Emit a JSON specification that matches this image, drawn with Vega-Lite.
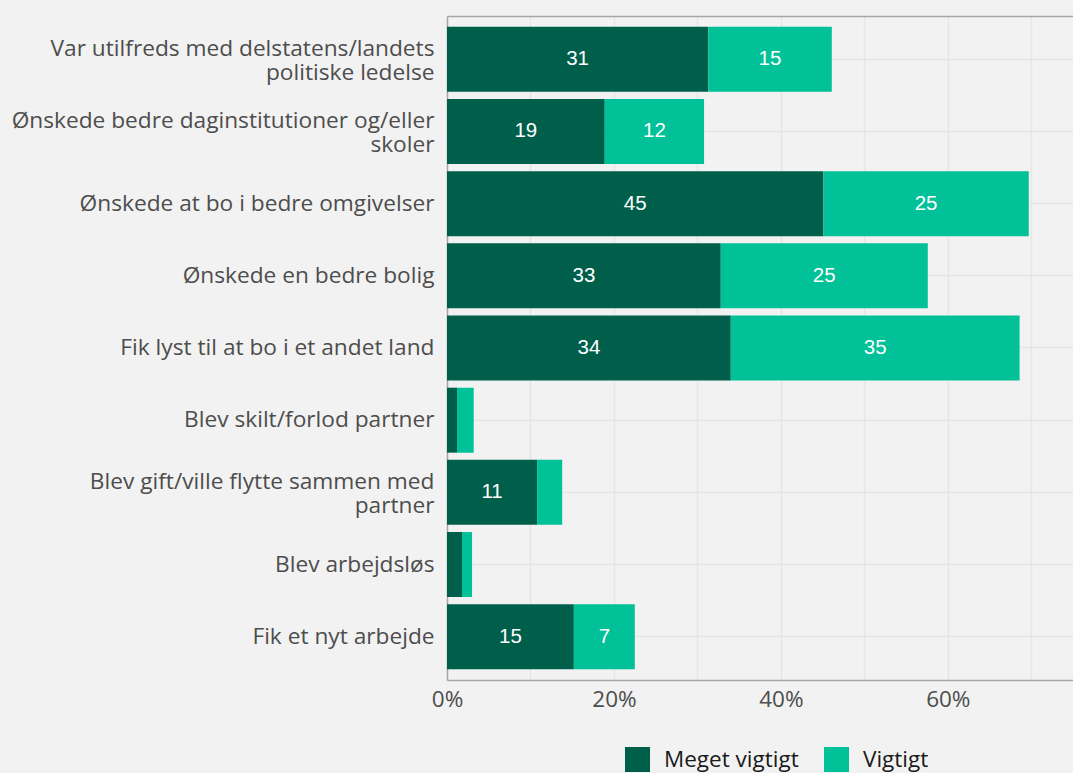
{
  "$schema": "https://vega.github.io/schema/vega-lite/v6.json",
  "width": 626,
  "height": 664,
  "autosize": "none",
  "padding": {"left": 447, "top": 16, "right": 0, "bottom": 93},
  "background": "#f2f2f2",
  "config": {
    "view": {"stroke": null},
    "font": "Open Sans"
  },
  "data": {
    "values": [
      {"category": "Var utilfreds med delstatens/landets|politiske ledelse", "type": "Meget vigtigt", "value": 31.3},
      {"category": "Var utilfreds med delstatens/landets|politiske ledelse", "type": "Vigtigt", "value": 14.8},
      {"category": "Ønskede bedre daginstitutioner og/eller|skoler", "type": "Meget vigtigt", "value": 18.9},
      {"category": "Ønskede bedre daginstitutioner og/eller|skoler", "type": "Vigtigt", "value": 11.9},
      {"category": "Ønskede at bo i bedre omgivelser", "type": "Meget vigtigt", "value": 45.1},
      {"category": "Ønskede at bo i bedre omgivelser", "type": "Vigtigt", "value": 24.6},
      {"category": "Ønskede en bedre bolig", "type": "Meget vigtigt", "value": 32.8},
      {"category": "Ønskede en bedre bolig", "type": "Vigtigt", "value": 24.8},
      {"category": "Fik lyst til at bo i et andet land", "type": "Meget vigtigt", "value": 34.0},
      {"category": "Fik lyst til at bo i et andet land", "type": "Vigtigt", "value": 34.6},
      {"category": "Blev skilt/forlod partner", "type": "Meget vigtigt", "value": 1.2},
      {"category": "Blev skilt/forlod partner", "type": "Vigtigt", "value": 2.0},
      {"category": "Blev gift/ville flytte sammen med|partner", "type": "Meget vigtigt", "value": 10.8},
      {"category": "Blev gift/ville flytte sammen med|partner", "type": "Vigtigt", "value": 3.0},
      {"category": "Blev arbejdsløs", "type": "Meget vigtigt", "value": 1.8},
      {"category": "Blev arbejdsløs", "type": "Vigtigt", "value": 1.2},
      {"category": "Fik et nyt arbejde", "type": "Meget vigtigt", "value": 15.2},
      {"category": "Fik et nyt arbejde", "type": "Vigtigt", "value": 7.3}
    ]
  },
  "encoding": {
    "y": {
      "field": "category",
      "type": "nominal",
      "sort": null,
      "scale": {"paddingInner": 0.1, "paddingOuter": 0.15},
      "axis": {
        "title": null,
        "labelExpr": "split(datum.label, '|')",
        "labelFontSize": 22.7,
        "labelColor": "#4d4d4d",
        "labelLineHeight": 24,
        "labelLimit": 0,
        "labelPadding": 13,
        "labelBaseline": "middle",
        "labelOffset": {"condition": {"test": "indexof(datum.value, '|') >= 0", "value": -10}, "value": 0},
        "ticks": false,
        "grid": true,
        "bandPosition": 0.5,
        "gridColor": "#e6e6e6",
        "gridWidth": 1.5,
        "domain": true,
        "domainColor": "#a6a6a6",
        "domainWidth": 1.5
      }
    },
    "order": {"field": "type", "sort": "ascending"}
  },
  "layer": [
    {
      "mark": {"type": "bar", "clip": true},
      "encoding": {
        "x": {
          "field": "value",
          "type": "quantitative",
          "stack": "zero",
          "scale": {"domain": [0, 75], "nice": false},
          "axis": {
            "title": null,
            "values": [0, 10, 20, 30, 40, 50, 60, 70],
            "labelExpr": "datum.value % 20 === 0 ? datum.value + '%' : ''",
            "labelFontSize": 22.5,
            "labelColor": "#4d4d4d",
            "labelPadding": 8,
            "labelFlush": false,
            "ticks": false,
            "grid": true,
            "gridColor": "#e6e6e6",
            "gridWidth": 1.5,
            "domainColor": "#a6a6a6",
            "domainWidth": 1.5
          }
        },
        "color": {
          "field": "type",
          "type": "nominal",
          "scale": {"domain": ["Meget vigtigt", "Vigtigt"], "range": ["#005f4b", "#00c197"]},
          "legend": {
            "title": null,
            "orient": "none",
            "legendX": 178,
            "legendY": 731,
            "direction": "horizontal",
            "symbolType": "square",
            "symbolSize": 625,
            "symbolStrokeWidth": 0,
            "symbolOpacity": 1,
            "labelFontSize": 22.5,
            "labelColor": "#1a1a1a",
            "labelFont": "Open Sans",
            "columnPadding": 25,
            "labelOffset": 14
          }
        }
      }
    },
    {
      "mark": {"type": "text", "color": "white", "font": "Liberation Sans", "fontSize": 20.5, "baseline": "middle", "align": "center"},
      "encoding": {
        "x": {
          "field": "value",
          "type": "quantitative",
          "stack": "zero",
          "bandPosition": 0.5,
          "axis": {
            "orient": "top",
            "title": null,
            "labels": false,
            "ticks": false,
            "grid": false,
            "domainColor": "#a6a6a6",
            "domainWidth": 1.5
          }
        },
        "detail": {"field": "type"},
        "text": {
          "condition": {"test": "datum.value >= 5", "field": "value", "type": "quantitative", "format": ".0f"},
          "value": ""
        }
      }
    }
  ],
  "resolve": {"axis": {"x": "independent"}}
}
